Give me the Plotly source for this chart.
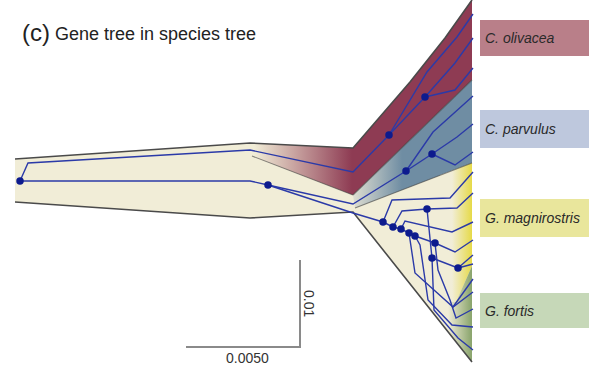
import plotly.graph_objects as go

# ---------------- species tree (pixel-space coordinates of the drawing) ----------------
beige_x = [15, 250, 353, 410, 445, 472, 472, 353, 250, 15]
beige_y = [159, 143, 148, 82, 38, 0, 362, 212, 218, 202]

olivacea_x = [250, 353, 410, 445, 472, 472, 353, 252]
olivacea_y = [143, 148, 82, 38, 0, 80, 195, 156]

parvulus_x = [353, 472, 472, 355]
parvulus_y = [195, 80, 163, 208]

magni_x = [440, 472, 472, 456, 440]
magni_y = [175, 163, 266, 302, 302]

fortis_x = [472, 472, 440, 440, 456]
fortis_y = [266, 362, 322, 302, 302]

outline_top_x = [15, 250, 353, 410, 445, 472]
outline_top_y = [159, 143, 148, 82, 38, 0]
outline_bot_x = [15, 250, 353, 472]
outline_bot_y = [202, 218, 212, 362]
inner_edges_x = [[252, 353], [355, 472], [353, 472]]
inner_edges_y = [[156, 195], [208, 163], [195, 80]]

# ---------------- gene tree ----------------
branch_x = [
    [20, 28, 250, 353, 389],          # root -> olivacea clade
    [20, 250, 268],                   # root -> lower node
    [389, 427, 457, 473],
    [389, 425],
    [425, 455, 473],
    [425, 455, 473],
    [268, 353, 406],                  # -> parvulus clade
    [406, 433, 473],
    [406, 432],
    [432, 457, 473],
    [432, 455, 473],
    [268, 353, 383],                  # -> Geospiza clade
    [383, 392, 450, 473],
    [383, 393],
    [393, 402, 427],
    [427, 457, 473],
    [427, 432],
    [393, 401],
    [401, 405, 452, 473],
    [401, 409],
    [409, 410, 415, 453, 473],
    [453, 473],
    [409, 415],
    [415, 435],
    [435, 455, 473],
    [435, 438, 450, 456, 473],
    [415, 420, 428, 452, 473],
    [432, 458],
    [458, 473],
    [458, 473],
    [432, 434, 458, 473],
]
branch_y = [
    [181, 163, 150, 172, 135],
    [181, 181, 185],
    [135, 72, 37, 14],
    [135, 97],
    [97, 63, 38],
    [97, 90, 68],
    [185, 204, 171],
    [171, 132, 96],
    [171, 154],
    [154, 137, 124],
    [154, 165, 152],
    [185, 213, 222],
    [222, 200, 198, 172],
    [222, 227],
    [227, 211, 209],
    [209, 208, 193],
    [209, 258],
    [227, 229],
    [229, 221, 232, 222],
    [229, 233],
    [233, 240, 273, 307, 292],
    [307, 279],
    [233, 236],
    [236, 243],
    [243, 252, 240],
    [243, 270, 300, 318, 309],
    [236, 245, 300, 325, 327],
    [258, 268],
    [268, 255],
    [268, 264],
    [258, 310, 338, 350],
]
node_x = [20, 268, 389, 425, 406, 432, 383, 393, 401, 409, 415, 427, 435, 432, 458]
node_y = [181, 185, 135, 97, 171, 154, 222, 227, 229, 233, 236, 209, 243, 258, 268]

# ---------------- labels ----------------
species_names = ["C. olivacea", "C. parvulus", "G. magnirostris", "G. fortis"]
label_box_y0 = [20, 110, 199, 293]
label_box_y1 = [56, 148, 237, 328]
label_colors = ["#B97F89", "#BEC8DD", "#E9E69C", "#C6D8B8"]

BEIGE = "#F1EDD7"
EDGE = "#4a4a4a"

fig = go.Figure()


def poly(xs, ys, c0, c1, start, stop):
    fig.add_trace(go.Scatter(
        x=xs + [xs[0]], y=ys + [ys[0]], mode="lines", fill="toself",
        line=dict(width=0, color="rgba(0,0,0,0)"),
        fillgradient=dict(type="horizontal", colorscale=[[0, c0], [1, c1]],
                          start=start, stop=stop),
        hoverinfo="skip", showlegend=False))


fig.add_trace(go.Scatter(x=beige_x + [beige_x[0]], y=beige_y + [beige_y[0]], mode="lines",
                         fill="toself", fillcolor=BEIGE, line=dict(width=0),
                         hoverinfo="skip", showlegend=False))
poly(olivacea_x, olivacea_y, BEIGE, "#8E3B53", 254, 352)
poly(parvulus_x, parvulus_y, "#DCDCD0", "#6F8DA3", 354, 402)
poly(magni_x, magni_y, BEIGE, "#E6DA48", 452, 472)
poly(fortis_x, fortis_y, BEIGE, "#8CA66F", 448, 471)

# outlines
for xs, ys, w, c in [(outline_top_x, outline_top_y, 1.6, EDGE),
                     (outline_bot_x, outline_bot_y, 1.6, EDGE)] + \
        [(ex, ey, 1.1, "rgba(60,60,60,0.6)") for ex, ey in zip(inner_edges_x, inner_edges_y)]:
    fig.add_trace(go.Scatter(x=xs, y=ys, mode="lines", line=dict(color=c, width=w),
                             hoverinfo="skip", showlegend=False))

# gene tree branches
gx, gy = [], []
for bx, by in zip(branch_x, branch_y):
    gx += bx + [None]
    gy += by + [None]
fig.add_trace(go.Scatter(x=gx, y=gy, mode="lines",
                         line=dict(color="#2B3AA8", width=1.4),
                         hoverinfo="skip", showlegend=False))
fig.add_trace(go.Scatter(x=node_x, y=node_y, mode="markers",
                         marker=dict(color="#0D1B8E", size=7.5),
                         hoverinfo="skip", showlegend=False))

# species label boxes
for name, y0, y1, col in zip(species_names, label_box_y0, label_box_y1, label_colors):
    fig.add_shape(type="rect", x0=480, x1=589, y0=y0, y1=y1, xref="x", yref="y",
                  fillcolor=col, line=dict(width=0), layer="below")
    fig.add_annotation(x=483, y=(y0 + y1) / 2, text="<i>%s</i>" % name, showarrow=False,
                       xanchor="left", yanchor="middle",
                       font=dict(family="Liberation Sans, Arial", size=14, color="#2a2a2a"))

# scale bars
fig.add_trace(go.Scatter(x=[186, 300, 300], y=[347, 347, 260], mode="lines",
                         line=dict(color="#8a8a8a", width=2),
                         hoverinfo="skip", showlegend=False))
fig.add_annotation(x=247, y=358, text="0.0050", showarrow=False, xanchor="center",
                   yanchor="middle", font=dict(family="Liberation Sans, Arial", size=14,
                                               color="#333333"))
fig.add_annotation(x=309, y=303, text="0.01", showarrow=False, textangle=90,
                   xanchor="center", yanchor="middle",
                   font=dict(family="Liberation Sans, Arial", size=14, color="#333333"))

# title
fig.add_annotation(x=20, y=32, text="(c)", showarrow=False, xanchor="left", yanchor="middle",
                   font=dict(family="Liberation Sans, Arial", size=24, color="#222222"))
fig.add_annotation(x=53, y=34, text="Gene tree in species tree", showarrow=False,
                   xanchor="left", yanchor="middle",
                   font=dict(family="Liberation Sans, Arial", size=18, color="#222222"))

fig.update_layout(
    width=594, height=376, margin=dict(l=0, r=0, t=0, b=0),
    paper_bgcolor="white", plot_bgcolor="white", showlegend=False,
    xaxis=dict(range=[0, 594], visible=False, fixedrange=True),
    yaxis=dict(range=[376, 0], visible=False, fixedrange=True),
)
fig.write_html("out.html")
